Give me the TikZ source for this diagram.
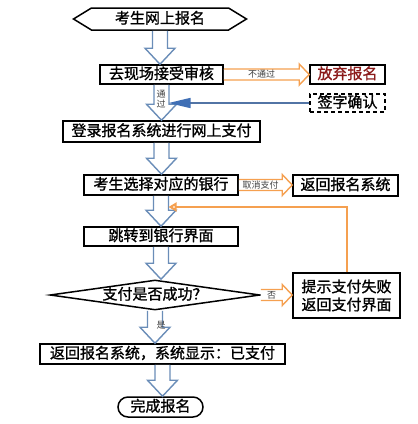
\documentclass[tikz,border=0pt]{standalone}
\usepackage{xcolor}
\usepackage{fontspec}
\setmainfont{Noto Sans CJK SC}
\newfontfamily\cjkbold{Noto Sans CJK SC}[FakeBold=1.2]
\usetikzlibrary{shapes.geometric,shapes.symbols,arrows.meta,calc}
\definecolor{flowblue}{HTML}{6A8DB8}
\definecolor{floworange}{HTML}{F5A050}
\definecolor{signblue}{HTML}{3F6FB5}
\definecolor{quitred}{HTML}{8B1A1A}
\tikzset{
	flowbox/.style={draw, line width=1.5pt, fill=white, inner sep=0pt, font=\cjkbold\fontsize{15pt}{18pt}\selectfont, text height=12pt, text depth=3pt},
	flowarrow/.style={draw=flowblue, line width=1.4pt, fill=white},
	sidearrow/.style={draw=floworange, line width=1.4pt, fill=white},
	flowlabel/.style={font=\fontsize{9pt}{10pt}\selectfont, text=black!75, inner sep=0pt},
}
\newcommand{\flowdown}[2]{\draw[flowarrow] let \p1=(#1.south), \p2=(#2.north) in
	(\x1-7.5pt,\y1) -- (\x1-7.5pt,\y2+16pt) -- (\x1-15pt,\y2+16pt) -- (\x1,\y2)
	-- (\x1+15pt,\y2+16pt) -- (\x1+7.5pt,\y2+16pt) -- (\x1+7.5pt,\y1);}
\newcommand{\flowside}[3]{\draw[sidearrow] let \p1=(#1.east), \p2=(#2.west) in
	(\x1,\y1+5.5pt) -- (\x2-10pt,\y1+5.5pt) -- (\x2-10pt,\y1+10.5pt) -- (\x2,\y1)
	-- (\x2-10pt,\y1-10.5pt) -- (\x2-10pt,\y1-5.5pt) -- (\x1,\y1-5.5pt)
	(\x1/2+\x2/2-5pt,\y1) node[flowlabel] {#3};}
\begin{document}
\begin{tikzpicture}[x=1pt,y=-1pt]
\useasboundingbox (0,0) rectangle (418,424);
	\node[flowbox, signal, signal to=west and east, signal pointer angle=63, minimum width=173pt, minimum height=22pt] (start) at (160,19) {考生网上报名};
	\node[flowbox, minimum width=123pt, minimum height=19pt] (check) at (161.5,74.5) {去现场接受审核};
	\node[flowbox, text=quitred, minimum width=75pt, minimum height=19pt] (quit) at (347.5,74.5) {放弃报名};
	\node[flowbox, dashed, dash pattern=on 4pt off 3pt, minimum width=75pt, minimum height=18pt] (sign) at (347.5,103) {签字确认};
	\node[flowbox, minimum width=197pt, minimum height=21pt] (login) at (161.5,131.5) {登录报名系统进行网上支付};
	\node[flowbox, minimum width=154pt, minimum height=20pt] (bank) at (161,185) {考生选择对应的银行};
	\node[flowbox, minimum width=105pt, minimum height=21pt] (back) at (345.5,185.5) {返回报名系统};
	\node[flowbox, minimum width=154pt, minimum height=19pt] (jump) at (161,236.5) {跳转到银行界面};
	\node[flowbox, diamond, aspect=7] (pay) at (155,295) {支付是否成功？};
	\node[flowbox, align=center, text height=, text depth=, minimum width=107pt, minimum height=45pt] (fail) at (346.5,295.5) {提示支付失败\\返回支付界面};
	\node[flowbox, minimum width=245pt, minimum height=20pt] (done) at (162.5,354) {返回报名系统，系统显示：已支付};
	\node[flowbox, rounded corners=10pt, minimum width=85pt, minimum height=20pt] (finish) at (160.5,407) {完成报名};
	\flowdown{start}{check}
	\flowdown{check}{login}
	\flowdown{login}{bank}
	\flowdown{bank}{jump}
	\flowdown{jump}{pay}
	\flowdown{pay}{done}
	\flowdown{done}{finish}
	\node[flowlabel, align=center] (pass) at (161,99) {通\\过};
	\node[flowlabel] (yes) at (161,325) {是};
	\flowside{check}{quit}{不通过}
	\flowside{bank}{back}{取消支付}
	\flowside{pay}{fail}{否}
	\coordinate (signend) at (168.5,103);
	\coordinate (retry) at (168.5,207);
	\draw[signblue!70!gray, line width=1.5pt, -{Triangle[length=22pt, width=10pt, color=signblue]}] (sign.west) -- (signend);
	\draw[floworange, line width=2pt, -{Triangle[open, length=8pt, width=9pt]}] (fail.north) |- (retry);
\end{tikzpicture}
\end{document}
